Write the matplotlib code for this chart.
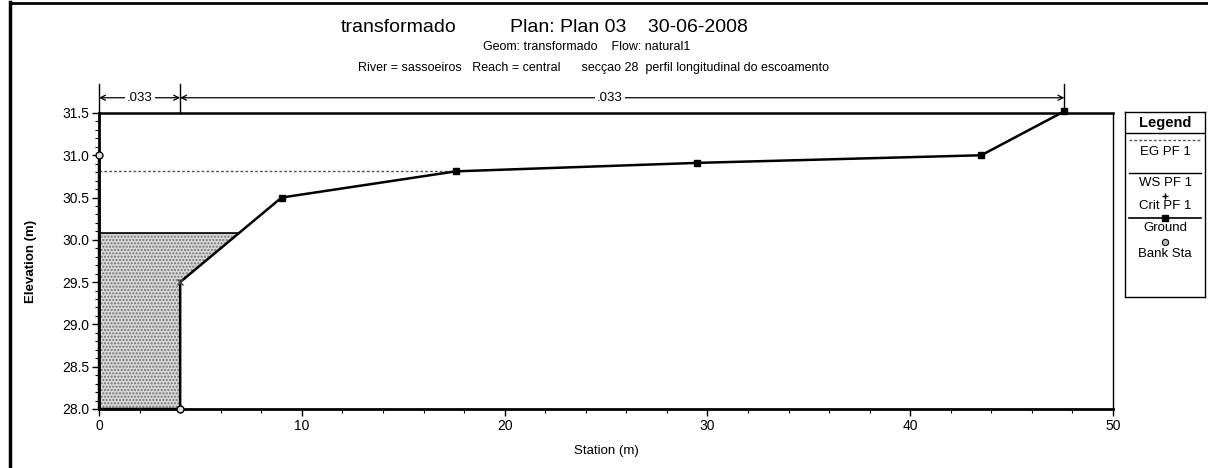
#!/usr/bin/env python3
"""Longitudinal profile plot for river sassoeiros, reach central, section 28."""

import matplotlib
matplotlib.use('Agg')
import matplotlib.pyplot as plt
import numpy as np

plt.rcParams['font.family'] = ['Liberation Sans', 'DejaVu Sans']

# ground profile (station, elevation)
ground_sta = [0.0, 0.0, 4.0, 4.0, 9.0, 17.6, 29.5, 43.5, 47.6]
ground_elev = [31.0, 28.0, 28.0, 29.5, 30.5, 30.81, 30.91, 31.0, 31.52]
ground_marker_sta = [9.0, 17.6, 29.5, 43.5, 47.6]
ground_marker_elev = [30.5, 30.81, 30.91, 31.0, 31.52]

bank_sta = [0.0, 4.0]
bank_elev = [31.0, 28.0]

ws_elev = 30.08
ws_right_sta = 6.9
eg_elev = 30.81
eg_right_sta = 17.6
crit_sta = 4.0
crit_elev = 29.5

# manning's n segments
n_breaks = [0.0, 4.0, 47.6]
n_values = ['.033', '.033']
n_label_sta = [2.0, 25.2]

legend_labels = ['EG PF 1', 'WS PF 1', 'Crit PF 1', 'Ground', 'Bank Sta']


def draw_profile(ax):
    # water surface fill
    ax.fill([0.0, ws_right_sta, crit_sta, 4.0, 0.0],
            [ws_elev, ws_elev, crit_elev, 28.0, 28.0],
            facecolor='#d8d8d8', edgecolor='#707070', hatch='.....',
            linewidth=0, zorder=1)
    ax.plot([0.0, ws_right_sta], [ws_elev, ws_elev], color='black', lw=1.2, zorder=2)
    ax.plot([0.0, eg_right_sta], [eg_elev, eg_elev], color='#555555', lw=1.0,
            linestyle=(0, (2, 1.5)), zorder=2)

    ax.plot(ground_sta, ground_elev, color='black', lw=1.8, zorder=3, clip_on=False)
    ax.plot(ground_marker_sta, ground_marker_elev, linestyle='none', marker='s',
            ms=4.5, color='black', zorder=4, clip_on=False)
    ax.plot(bank_sta, bank_elev, linestyle='none', marker='o', ms=5,
            mfc='#dddddd', mec='black', mew=1.0, zorder=5, clip_on=False)
    ax.plot([crit_sta], [crit_elev], linestyle='none', marker='x', ms=4,
            color='#444444', zorder=5)


def draw_mannings(ax):
    y_top = 31.84
    y_arr = 31.68
    for x in n_breaks:
        ax.plot([x, x], [31.5, y_top], color='black', lw=1.0, clip_on=False)
    for i, val in enumerate(n_values):
        x0, x1 = n_breaks[i], n_breaks[i + 1]
        ax.annotate('', xy=(x0, y_arr), xytext=(x1, y_arr),
                    arrowprops=dict(arrowstyle='<->', lw=0.9, color='black',
                                    shrinkA=0, shrinkB=0, mutation_scale=9),
                    annotation_clip=False)
        ax.text(n_label_sta[i], y_arr, val, ha='center', va='center', fontsize=9.5,
                bbox=dict(facecolor='white', edgecolor='none', pad=1.5), clip_on=False)


def draw_legend(fig):
    lax = fig.add_axes([0.9315, 0.365, 0.066, 0.396])
    lax.set_xlim(0, 1)
    lax.set_ylim(0, 1)
    lax.set_xticks([])
    lax.set_yticks([])
    for s in lax.spines.values():
        s.set_linewidth(1.0)
    lax.text(0.5, 0.94, 'Legend', ha='center', va='center', fontsize=10.5, fontweight='bold')
    lax.axhline(0.886, color='black', lw=1.0)
    # EG
    lax.plot([0.05, 0.95], [0.849, 0.849], color='#555555', lw=1.0, linestyle=(0, (2, 1.5)))
    lax.text(0.5, 0.784, legend_labels[0], ha='center', va='center', fontsize=9.5)
    # WS
    lax.plot([0.05, 0.95], [0.670, 0.670], color='black', lw=1.0)
    lax.text(0.5, 0.616, legend_labels[1], ha='center', va='center', fontsize=9.5)
    # Crit
    lax.plot([0.5], [0.546], marker='+', ms=5, color='black', linestyle='none')
    lax.text(0.5, 0.492, legend_labels[2], ha='center', va='center', fontsize=9.5)
    # Ground
    lax.plot([0.05, 0.95], [0.427, 0.427], color='black', lw=1.2)
    lax.plot([0.5], [0.427], marker='s', ms=4, color='black', linestyle='none')
    lax.text(0.5, 0.373, legend_labels[3], ha='center', va='center', fontsize=9.5)
    # Bank station
    lax.plot([0.5], [0.297], marker='o', ms=4.5, mfc='#bbbbbb', mec='black',
             mew=0.8, linestyle='none')
    lax.text(0.5, 0.232, legend_labels[4], ha='center', va='center', fontsize=9.5)


def main():
    fig = plt.figure(figsize=(12.08, 4.68), dpi=100)
    ax = fig.add_axes([0.0820, 0.1261, 0.8394, 0.6325])

    draw_profile(ax)
    draw_mannings(ax)

    ax.set_xlim(0, 50)
    ax.set_ylim(28.0, 31.5)
    ax.set_xticks(np.arange(0, 51, 10))
    ax.set_xticks(np.arange(0, 51, 2), minor=True)
    ax.set_yticks(np.arange(28.0, 31.51, 0.5))
    ax.set_yticks(np.arange(28.0, 31.51, 0.1), minor=True)
    ax.set_yticklabels([f'{v:.1f}' for v in np.arange(28.0, 31.51, 0.5)])
    ax.tick_params(axis='both', which='major', length=5, width=1.0,
                   labelsize=10, direction='out', pad=2)
    ax.tick_params(axis='both', which='minor', length=3, width=0.8, direction='out')

    ax.spines['left'].set_linewidth(2.0)
    ax.spines['bottom'].set_linewidth(2.0)
    ax.spines['top'].set_linewidth(1.8)
    ax.spines['right'].set_linewidth(1.0)

    ax.set_xlabel('Station (m)', fontsize=9.5, labelpad=9)
    ax.set_ylabel('Elevation (m)', fontsize=9.5, fontweight='bold', labelpad=18)

    fig.text(0.282, 0.942, 'transformado', ha='left', va='center', fontsize=14)
    fig.text(0.422, 0.942, 'Plan: Plan 03    30-06-2008', ha='left', va='center', fontsize=14)
    fig.text(0.486, 0.899, 'Geom: transformado    Flow: natural1',
             ha='center', va='center', fontsize=9)
    fig.text(0.491, 0.855,
             'River = sassoeiros   Reach = central      secçao 28  perfil longitudinal do escoamento',
             ha='center', va='center', fontsize=9)

    draw_legend(fig)

    # page border
    fig.add_artist(plt.Line2D([0.008, 0.008], [0.0, 0.995], color='black', lw=2.5,
                              transform=fig.transFigure))
    fig.add_artist(plt.Line2D([0.008, 1.0], [0.994, 0.994], color='black', lw=2.0,
                              transform=fig.transFigure))

    fig.savefig('out.png', dpi=100)
    plt.close(fig)


if __name__ == '__main__':
    main()
